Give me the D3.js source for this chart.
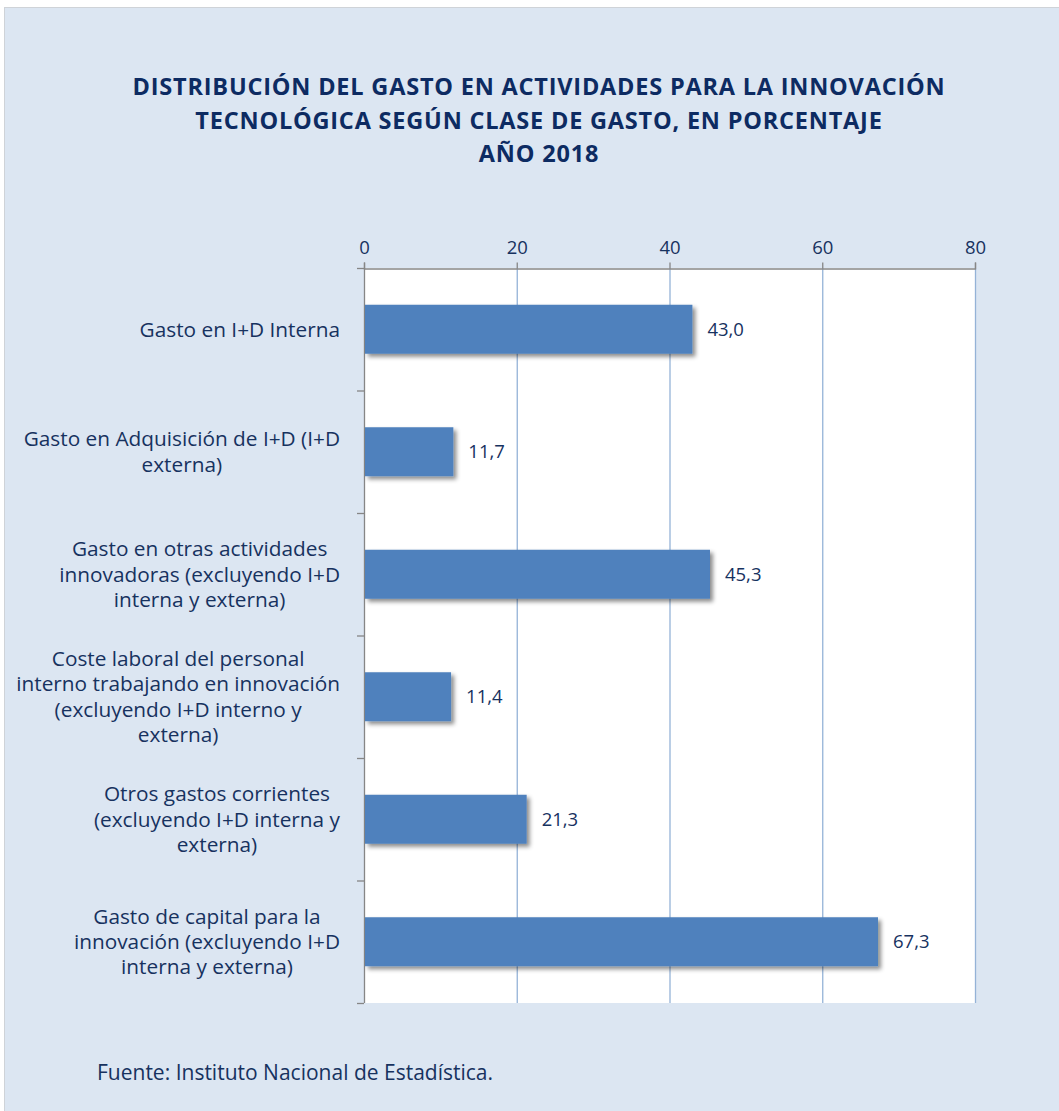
<!DOCTYPE html>
<html>
<head>
<meta charset="utf-8">
<script src="https://cdn.jsdelivr.net/npm/d3@7"></script>
<style>
  html, body { margin: 0; padding: 0; background: #ffffff; }
  svg { display: block; }
</style>
</head>
<body>
<script>
// Categories (each given as its wrapped lines) and their share of spending, in %
const categories = [
  ["Gasto en I+D Interna"],
  ["Gasto en Adquisición de I+D (I+D", "externa)"],
  ["Gasto en otras actividades", "innovadoras (excluyendo I+D", "interna y externa)"],
  ["Coste laboral del personal", "interno trabajando en innovación", "(excluyendo I+D interno y", "externa)"],
  ["Otros gastos corrientes", "(excluyendo I+D interna y", "externa)"],
  ["Gasto de capital para la", "innovación (excluyendo I+D", "interna y externa)"]
];
const values = [43.0, 11.7, 45.3, 11.4, 21.3, 67.3];
const xTicks = [0, 20, 40, 60, 80];
const titleLines = [
  "DISTRIBUCIÓN DEL GASTO EN ACTIVIDADES PARA LA INNOVACIÓN",
  "TECNOLÓGICA SEGÚN CLASE DE GASTO, EN PORCENTAJE",
  "AÑO 2018"
];
const source = "Fuente: Instituto Nacional de Estadística.";

const W = 1059, H = 1111;
const plot = { left: 364, right: 975, top: 268, bottom: 1003 };
const font = "'Open Sans', sans-serif";
const navy = "#17325f";
const titleNavy = "#0d2b62";

const svg = d3.select("body").append("svg")
  .attr("width", W).attr("height", H);

// soft drop shadow under the bars
const defs = svg.append("defs");
const f = defs.append("filter").attr("id", "shadow")
  .attr("x", "-10%").attr("y", "-30%").attr("width", "130%").attr("height", "180%");
f.append("feDropShadow")
  .attr("dx", 3).attr("dy", 3).attr("stdDeviation", 2.2)
  .attr("flood-color", "#000").attr("flood-opacity", 0.45);

// panel background
svg.append("rect")
  .attr("x", 4.5).attr("y", 7.5).attr("width", W).attr("height", H)
  .attr("fill", "#dce6f2").attr("stroke", "#cfd3d8");

// title
svg.append("g").selectAll("text").data(titleLines).join("text")
  .attr("x", 539).attr("y", (d, i) => 95 + i * 33.5)
  .attr("text-anchor", "middle")
  .attr("font-family", font).attr("font-weight", 700).attr("font-size", 23.5)
  .attr("letter-spacing", 0.8)
  .attr("fill", titleNavy)
  .text(d => d);

const x = d3.scaleLinear().domain([0, 80]).range([plot.left, plot.right]);
const y = d3.scaleBand().domain(d3.range(categories.length))
  .range([plot.top, plot.bottom]).paddingInner(0.6).paddingOuter(0.3);
const bandStep = (plot.bottom - plot.top) / categories.length;

// white plot area
svg.append("rect")
  .attr("x", plot.left).attr("y", plot.top)
  .attr("width", plot.right - plot.left).attr("height", plot.bottom - plot.top)
  .attr("fill", "#ffffff");

// vertical gridlines
svg.append("g").selectAll("line").data(xTicks.filter(t => t > 0)).join("line")
  .attr("x1", d => x(d) + 0.5).attr("x2", d => x(d) + 0.5)
  .attr("y1", plot.top).attr("y2", plot.bottom)
  .attr("stroke", "#95b3d7").attr("stroke-width", 1.3);

// top value axis
const xAxis = svg.append("g")
  .attr("transform", `translate(0,${plot.top + 0.5})`)
  .call(d3.axisTop(x).tickValues(xTicks).tickSize(6).tickPadding(9));
xAxis.select(".domain").attr("stroke", "#868686").attr("stroke-width", 1.3);
xAxis.selectAll(".tick line").attr("stroke", "#868686").attr("stroke-width", 1.3);
xAxis.selectAll(".tick text")
  .attr("font-family", font).attr("font-size", 18.5).attr("fill", navy);

// left category axis: line plus boundary ticks
const yAxis = svg.append("g");
yAxis.append("line")
  .attr("x1", plot.left + 0.5).attr("x2", plot.left + 0.5)
  .attr("y1", plot.top).attr("y2", plot.bottom)
  .attr("stroke", "#868686").attr("stroke-width", 1.3);
yAxis.selectAll("line.tk").data(d3.range(categories.length + 1)).join("line")
  .attr("class", "tk")
  .attr("x1", plot.left - 7).attr("x2", plot.left)
  .attr("y1", i => plot.top + i * bandStep + 0.5)
  .attr("y2", i => plot.top + i * bandStep + 0.5)
  .attr("stroke", "#868686").attr("stroke-width", 1.3);

// bars
svg.append("g").selectAll("rect").data(values).join("rect")
  .attr("x", x(0) + 1).attr("y", (d, i) => y(i))
  .attr("width", d => x(d) - x(0) - 1).attr("height", y.bandwidth())
  .attr("fill", "#4f81bd").attr("filter", "url(#shadow)");

// value labels
svg.append("g").selectAll("text").data(values).join("text")
  .attr("x", d => x(d) + 15).attr("y", (d, i) => y(i) + y.bandwidth() / 2)
  .attr("dy", "0.35em")
  .attr("font-family", font).attr("font-size", 18.5).attr("fill", navy)
  .text(d => d.toFixed(1).replace(".", ","));

// category labels: lines centred within a block that is right-aligned to the axis
const lineH = 25.3;
const labelRight = 340;
const lab = svg.append("g");
categories.forEach((lines, i) => {
  const cy = plot.top + (i + 0.5) * bandStep;
  const g = lab.append("g");
  const texts = g.selectAll("text").data(lines).join("text")
    .attr("y", (d, j) => cy + (j - (lines.length - 1) / 2) * lineH)
    .attr("dy", "0.35em")
    .attr("text-anchor", "middle")
    .attr("font-family", font).attr("font-size", 20.8).attr("fill", navy)
    .text(d => d);
  const widths = texts.nodes().map(n => n.getComputedTextLength());
  const blockW = d3.max(widths);
  texts.attr("x", labelRight - blockW / 2);
});

// source note
svg.append("text")
  .attr("x", 97).attr("y", 1080)
  .attr("font-family", font).attr("font-size", 21).attr("fill", navy)
  .text(source);
</script>
</body>
</html>
